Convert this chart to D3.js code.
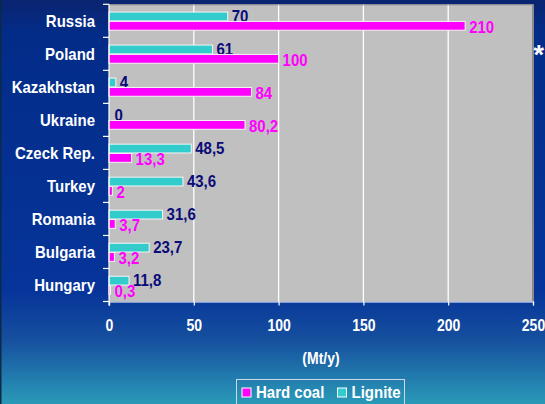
<!DOCTYPE html>
<html>
<head>
<meta charset="utf-8">
<script src="https://cdn.jsdelivr.net/npm/d3@7"></script>
<style>
  html, body { margin: 0; padding: 0; background: #0a2a80; }
  svg { display: block; }
  text { font-family: "Liberation Sans", Arial, sans-serif; font-weight: bold; }
</style>
</head>
<body>
<svg id="chart" width="545" height="404"></svg>
<script>
const categories = ["Russia", "Poland", "Kazakhstan", "Ukraine", "Czeck Rep.", "Turkey", "Romania", "Bulgaria", "Hungary"];
const hardCoal = [210, 100, 84, 80.2, 13.3, 2, 3.7, 3.2, 0.3];
const lignite = [70, 61, 4, 0, 48.5, 43.6, 31.6, 23.7, 11.8];
const xTicks = [0, 50, 100, 150, 200, 250];
const seriesNames = ["Lignite", "Hard coal"];
const legendNames = ["Hard coal", "Lignite"];
const axisTitle = "(Mt/y)";

const W = 545, H = 404;
const margin = { top: 4.3, right: 12, bottom: 102.5, left: 109 };
const colors = { "Hard coal": "#ff00ff", "Lignite": "#33cccc" };
const labelColors = { "Hard coal": "#ff00ff", "Lignite": "#0a0a78" };
const SY = 1.15; // vertical stretch of the original's text

const svg = d3.select("#chart");
const defs = svg.append("defs");
const grad = defs.append("linearGradient").attr("id", "bg").attr("x1", 0).attr("y1", 0).attr("x2", 0).attr("y2", 1);
[[0, "#0a2470"], [0.08, "#032c88"], [0.72, "#06349a"], [0.84, "#164f9e"], [1, "#2a9ab8"]]
  .forEach(([o, c]) => grad.append("stop").attr("offset", o).attr("stop-color", c));
svg.append("rect").attr("width", W).attr("height", H).attr("fill", "url(#bg)");
svg.append("rect").attr("width", 1.5).attr("height", H).attr("fill", "#0b2a48");

function txt(parent, px, py, str) {
  return parent.append("text")
    .attr("transform", `translate(${px},${py}) scale(1,${SY})`)
    .text(str);
}

const x = d3.scaleLinear().domain([0, 250]).range([margin.left, W - margin.right]);
const y = d3.scaleBand().domain(categories).range([margin.top, H - margin.bottom]).padding(0);
const inner = d3.scaleBand().domain(seriesNames).range([y.bandwidth() * 0.235, y.bandwidth() * 0.785]).paddingInner(0.06);

// plot area
svg.append("rect")
  .attr("x", x(0)).attr("y", margin.top)
  .attr("width", x(250) - x(0)).attr("height", H - margin.bottom - margin.top)
  .attr("fill", "#c0c0c0");
// gridlines
svg.append("g").selectAll("line").data(xTicks.filter(t => t > 0 && t < 250)).join("line")
  .attr("x1", d => x(d)).attr("x2", d => x(d))
  .attr("y1", margin.top).attr("y2", H - margin.bottom)
  .attr("stroke", "#ffffff").attr("stroke-width", 1.3);
// borders
svg.append("line").attr("x1", x(0)).attr("x2", x(250)).attr("y1", margin.top + 0.5).attr("y2", margin.top + 0.5)
  .attr("stroke", "#8a8a8a").attr("stroke-width", 1);
svg.append("line").attr("x1", x(250)).attr("x2", x(250)).attr("y1", margin.top).attr("y2", H - margin.bottom)
  .attr("stroke", "#8a8a8a").attr("stroke-width", 2);

const rows = categories.map((c, i) => ({ cat: c, vals: { "Hard coal": hardCoal[i], "Lignite": lignite[i] } }));
const fmt = v => String(v).replace(".", ",");

const g = svg.append("g");
rows.forEach(r => {
  seriesNames.forEach(s => {
    const v = r.vals[s];
    const by = y(r.cat) + inner(s);
    if (v > 0) {
      g.append("rect")
        .attr("x", x(0)).attr("y", by)
        .attr("width", Math.max(x(v) - x(0), 1.5)).attr("height", inner.bandwidth())
        .attr("fill", colors[s]).attr("stroke", "#f4f4f4").attr("stroke-width", 1);
    }
    txt(g, Math.max(x(v), x(0) + 1.5) + 4, by + inner.bandwidth() / 2 + (s === "Lignite" ? 5.6 : 6.8), fmt(v))
      .attr("fill", labelColors[s]).attr("font-size", 15);
  });
});

// left axis
const yAxis = svg.append("g").attr("transform", `translate(${x(0)},0)`);
yAxis.append("line").attr("x1", 0).attr("x2", 0).attr("y1", margin.top).attr("y2", H - margin.bottom + 4)
  .attr("stroke", "#ffffff").attr("stroke-width", 1.2);
const bounds = categories.map(c => y(c)).concat([y(categories[categories.length - 1]) + y.bandwidth()]);
yAxis.selectAll("line.tk").data(bounds).join("line").attr("class", "tk")
  .attr("x1", -6).attr("x2", 0).attr("y1", d => d).attr("y2", d => d)
  .attr("stroke", "#ffffff").attr("stroke-width", 1.2);
const catG = svg.append("g");
categories.forEach(c => {
  txt(catG, 95, y(c) + y.bandwidth() / 2 + 5.8, c)
    .attr("text-anchor", "end").attr("fill", "#ffffff").attr("font-size", 15);
});

// bottom axis
const xAxisG = svg.append("g").attr("transform", `translate(0,${H - margin.bottom})`)
  .call(d3.axisBottom(x).tickValues(xTicks).tickSize(4).tickPadding(0).tickFormat(d3.format("d")));
xAxisG.select(".domain").attr("stroke", "#ffffff").attr("stroke-width", 1.2);
xAxisG.selectAll(".tick line").attr("stroke", "#ffffff").attr("stroke-width", 1.2);
xAxisG.selectAll(".tick text").attr("fill", "#ffffff").attr("font-size", 14)
  .attr("font-family", "Liberation Sans, Arial, sans-serif").attr("font-weight", "bold")
  .attr("dy", null).attr("y", 0)
  .attr("transform", `translate(0,29.5) scale(1,${SY})`);

txt(svg, 321, 364, axisTitle).attr("text-anchor", "middle").attr("fill", "#ffffff").attr("font-size", 14);

svg.append("text").attr("x", 533.5).attr("y", 64).attr("fill", "#ffffff").attr("font-size", 27).text("*");

// legend
const lg = svg.append("g");
lg.append("rect").attr("x", 236.5).attr("y", 379.5).attr("width", 168).attr("height", 30)
  .attr("fill", "none").attr("stroke", "#d0d8e8").attr("stroke-width", 1);
const legendX = [242, 337.5];
legendNames.forEach((n, i) => {
  lg.append("rect").attr("x", legendX[i]).attr("y", 388).attr("width", 9).attr("height", 9)
    .attr("fill", colors[n]).attr("stroke", "#ffffff").attr("stroke-width", 1);
  txt(lg, legendX[i] + 14, 397.5, n).attr("fill", "#ffffff").attr("font-size", 15);
});
</script>
</body>
</html>
